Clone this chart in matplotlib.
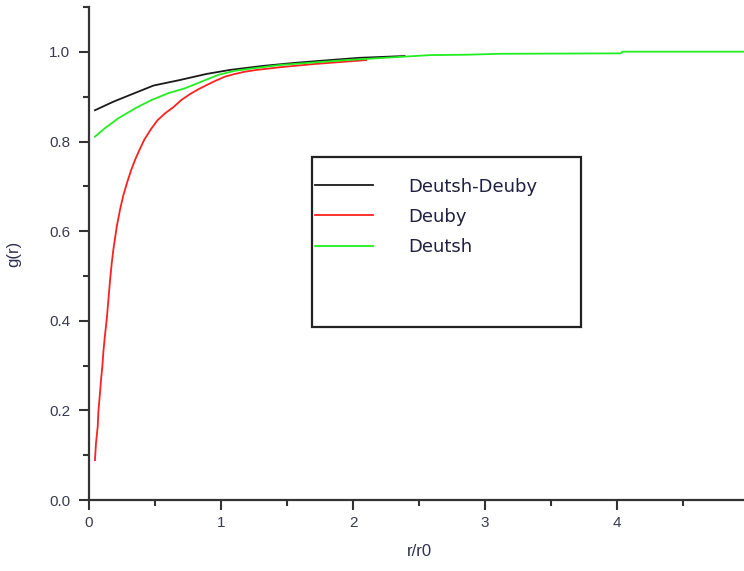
import matplotlib
matplotlib.use("Agg")
import matplotlib.pyplot as plt
from matplotlib.patches import Rectangle
from matplotlib.ticker import MultipleLocator, FormatStrFormatter

# Data
r_dd = [0.045, 0.184, 0.31, 0.437, 0.487, 0.689, 0.89, 1.068, 1.32, 1.57, 1.826, 2.05, 2.39]
g_dd = [0.870, 0.889, 0.904, 0.919, 0.925, 0.9375, 0.951, 0.960, 0.969, 0.976, 0.982, 0.987, 0.991]

r_deuby = [0.045, 0.053, 0.066, 0.071, 0.083, 0.091, 0.101, 0.109, 0.121, 0.134, 0.145,
           0.159, 0.172, 0.184, 0.21, 0.235, 0.26, 0.29, 0.32, 0.35, 0.38, 0.42, 0.47,
           0.52, 0.58, 0.64, 0.70, 0.765, 0.83, 0.89, 0.96, 1.03, 1.106, 1.18, 1.27,
           1.447, 1.70, 2.10]
g_deuby = [0.089, 0.127, 0.164, 0.197, 0.238, 0.268, 0.298, 0.331, 0.368, 0.402, 0.440,
           0.489, 0.528, 0.558, 0.610, 0.648, 0.680, 0.710, 0.737, 0.760, 0.780, 0.805, 0.828,
           0.848, 0.864, 0.877, 0.893, 0.906, 0.917, 0.926, 0.936, 0.945, 0.951, 0.956, 0.960,
           0.966, 0.973, 0.982]

r_deutsh = [0.045, 0.121, 0.222, 0.348, 0.475, 0.60, 0.727, 0.854, 0.98, 1.106, 1.23,
            1.447, 1.95, 2.58, 2.87, 3.11, 4.03, 4.04, 5.0]
g_deutsh = [0.811, 0.830, 0.852, 0.874, 0.893, 0.908, 0.919, 0.934, 0.949, 0.958, 0.963,
            0.971, 0.982, 0.993, 0.994, 0.996, 0.997, 1.0007, 1.0007]

series_labels = ["Deutsh-Deuby", "Deuby", "Deutsh"]

plt.rcParams['font.family'] = ['Liberation Sans', 'DejaVu Sans']

fig = plt.figure(figsize=(7.44, 5.71), dpi=100)
W, H = 744, 571
ax_l, ax_r, ax_b, ax_t = 89, 749, 500, 7.2
ax = fig.add_axes([ax_l / W, 1 - ax_b / H, (ax_r - ax_l) / W, (ax_b - ax_t) / H])

l1, = ax.plot(r_dd, g_dd, color='#1a1a1a', lw=1.3, label=series_labels[0])
l2, = ax.plot(r_deuby, g_deuby, color='#ff2020', lw=1.3, label=series_labels[1])
l3, = ax.plot(r_deutsh, g_deutsh, color='#22ee22', lw=1.3, label=series_labels[2])

ax.set_xlim(0, 5)
ax.set_ylim(0, 1.1)
ax.xaxis.set_major_locator(MultipleLocator(1))
ax.xaxis.set_minor_locator(MultipleLocator(0.5))
ax.yaxis.set_major_locator(MultipleLocator(0.2))
ax.yaxis.set_minor_locator(MultipleLocator(0.1))
ax.yaxis.set_major_formatter(FormatStrFormatter('%.1f'))

for s in ['top', 'right']:
    ax.spines[s].set_visible(False)
for s in ['left', 'bottom']:
    ax.spines[s].set_color('#333333')
    ax.spines[s].set_linewidth(1.6)

ax.tick_params(which='major', length=7, width=1.5, color='#333333',
               labelsize=11, labelcolor='#3a3a50')
ax.tick_params(axis='y', which='major', pad=6.5)
ax.tick_params(axis='x', which='major', pad=4.5)
ax.tick_params(which='minor', length=4, width=1.5, color='#333333')

ax.set_xlabel('r/r0', fontsize=12, color='#303050', labelpad=10)
ax.set_ylabel('g(r)', fontsize=12, color='#303050', labelpad=20)

# legend box
rect = Rectangle(((312 - ax_l) / (ax_r - ax_l), (ax_b - 327) / (ax_b - ax_t)),
                 (581 - 312) / (ax_r - ax_l), (327 - 157) / (ax_b - ax_t),
                 transform=ax.transAxes, fill=False, edgecolor='#222222', lw=1.6)
ax.add_patch(rect)
leg = ax.legend(handles=[l1, l2, l3], frameon=False, loc='upper left',
                bbox_to_anchor=(315 / W, 1 - 177.5 / H), bbox_transform=fig.transFigure,
                borderpad=0, borderaxespad=0, handlelength=3.2,
                handletextpad=1.95, labelspacing=0.68,
                prop={'family': 'DejaVu Sans', 'size': 13})
for t in leg.get_texts():
    t.set_color('#202040')

fig.savefig('out.png', dpi=100)
